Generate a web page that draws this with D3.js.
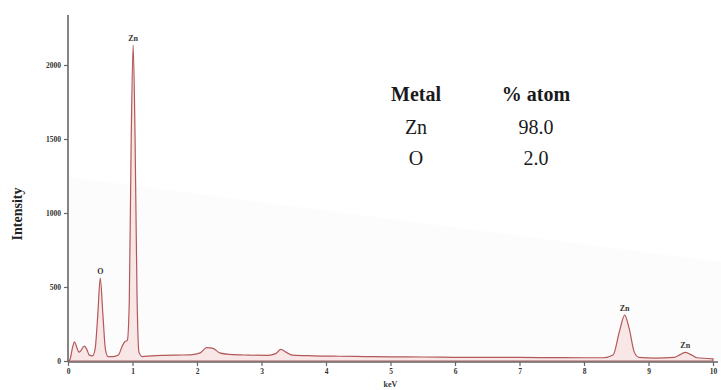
<!DOCTYPE html>
<html>
<head>
<meta charset="utf-8">
<script src="https://cdn.jsdelivr.net/npm/d3@7"></script>
<style>
  body { margin: 0; background: #fff; }
  svg { display: block; }
</style>
</head>
<body>
<div id="chart"></div>
<script>
// EDS spectrum
const energy = [0, 0.03, 0.07, 0.1, 0.13, 0.17, 0.2, 0.25, 0.29, 0.33, 0.38, 0.42, 0.46, 0.5, 0.54, 0.58, 0.62,
  0.7, 0.78, 0.84, 0.88, 0.92, 0.95, 0.98, 1.01, 1.04, 1.07, 1.1, 1.15, 1.3, 1.5, 1.7, 1.9, 2.05, 2.15, 2.25,
  2.35, 2.5, 2.8, 3.1, 3.22, 3.3, 3.38, 3.48, 3.8, 4.2, 4.6, 5.0, 5.5, 6.0, 6.5, 7.0, 7.5, 8.0, 8.3, 8.45,
  8.55, 8.63, 8.7, 8.78, 8.85, 9.1, 9.4, 9.5, 9.57, 9.65, 9.75, 10.0];
const counts = [0, 10, 90, 130, 100, 60, 70, 100, 80, 40, 35, 80, 300, 560, 320, 80, 30,
  30, 40, 100, 130, 140, 400, 1500, 2135, 1500, 450, 60, 30, 35, 38, 40, 42, 55, 90, 85,
  55, 45, 40, 38, 50, 78, 60, 40, 35, 32, 30, 28, 27, 25, 24, 24, 23, 22, 22, 40,
  200, 310, 220, 60, 25, 20, 25, 45, 58, 45, 22, 15];

const peakLabels = ['Zn', 'O', 'Zn', 'Zn'];
const peakEnergy = [1.01, 0.5, 8.63, 9.57];
const peakCounts = [2135, 560, 310, 58];

const xTicks = [0, 1, 2, 3, 4, 5, 6, 7, 8, 9, 10];
const yTicks = [0, 500, 1000, 1500, 2000];

const tableHead = ['Metal', '% atom'];
const tableElem = ['Zn', 'O'];
const tablePct = ['98.0', '2.0'];

const W = 721, H = 390;
const serif = "'Liberation Serif', 'Times New Roman', serif";
const svg = d3.select('#chart').append('svg')
    .attr('width', W)
    .attr('height', H);

// faint background wedge from the scan
svg.append('path')
    .attr('d', 'M68,177 L721,262 L721,363 L68,363 Z')
    .attr('fill', '#fcfcfc');

const x = d3.scaleLinear().domain([0, 10]).range([68, 713]);
const y = d3.scaleLinear().domain([0, 2000]).range([361, 65]);

const pts = energy.map((e, i) => ({ e, c: counts[i] }));

// spectrum: pale fill with darker red outline
svg.append('path')
    .datum(pts)
    .attr('fill', '#f9e6e6')
    .attr('stroke', '#b2595b')
    .attr('stroke-width', 1.2)
    .attr('d', d3.area()
        .x(d => x(d.e))
        .y0(y(0))
        .y1(d => y(d.c))
        .curve(d3.curveMonotoneX));

// axes
const axisColor = '#666';
const xAxis = svg.append('g')
    .attr('transform', `translate(0,${y(0) + 1})`)
    .call(d3.axisBottom(x).tickValues(xTicks).tickSize(4).tickSizeOuter(0).tickFormat(d3.format('d')));
xAxis.select('.domain').attr('d', 'M68,0H718');

const yAxis = svg.append('g')
    .attr('transform', 'translate(68,0)')
    .call(d3.axisLeft(y).tickValues(yTicks).tickSize(4).tickSizeOuter(0).tickFormat(d3.format('d')));
yAxis.select('.domain').attr('d', `M0,15V${y(0) + 1}`);

svg.selectAll('.domain').attr('stroke', axisColor).attr('stroke-width', 1.6);
svg.selectAll('.tick line').attr('stroke', axisColor).attr('stroke-width', 1.2);
svg.selectAll('.tick text')
    .attr('font-family', serif)
    .attr('font-weight', 'bold')
    .attr('font-size', 7.5)
    .attr('fill', '#333');

svg.append('text')
    .attr('transform', 'translate(22,214) rotate(-90)')
    .attr('text-anchor', 'middle')
    .attr('font-family', serif)
    .attr('font-weight', 'bold')
    .attr('font-size', 14)
    .attr('fill', '#222')
    .text('Intensity');

svg.append('text')
    .attr('x', x(5))
    .attr('y', 387)
    .attr('text-anchor', 'middle')
    .attr('font-family', serif)
    .attr('font-weight', 'bold')
    .attr('font-size', 8)
    .attr('fill', '#333')
    .text('keV');

// peak labels
svg.selectAll('.peak')
    .data(peakLabels)
    .join('text')
    .attr('x', (d, i) => x(peakEnergy[i]))
    .attr('y', (d, i) => y(peakCounts[i]) - 4)
    .attr('text-anchor', 'middle')
    .attr('font-family', serif)
    .attr('font-weight', 'bold')
    .attr('font-size', 8)
    .attr('fill', '#333')
    .text(d => d);

// composition table
const colX = [416, 536];
svg.selectAll('.head')
    .data(tableHead)
    .join('text')
    .attr('x', (d, i) => colX[i])
    .attr('y', 101)
    .attr('text-anchor', 'middle')
    .attr('font-family', serif)
    .attr('font-weight', 'bold')
    .attr('font-size', 20)
    .attr('fill', '#1a1a1a')
    .text(d => d);

const rowY = [134, 165];
tableElem.forEach((el, i) => {
    svg.append('text')
        .attr('x', colX[0]).attr('y', rowY[i])
        .attr('text-anchor', 'middle')
        .attr('font-family', serif)
        .attr('font-size', 20)
        .attr('fill', '#1a1a1a')
        .text(el);
    svg.append('text')
        .attr('x', colX[1]).attr('y', rowY[i])
        .attr('text-anchor', 'middle')
        .attr('font-family', serif)
        .attr('font-size', 20)
        .attr('fill', '#1a1a1a')
        .text(tablePct[i]);
});
</script>
</body>
</html>
